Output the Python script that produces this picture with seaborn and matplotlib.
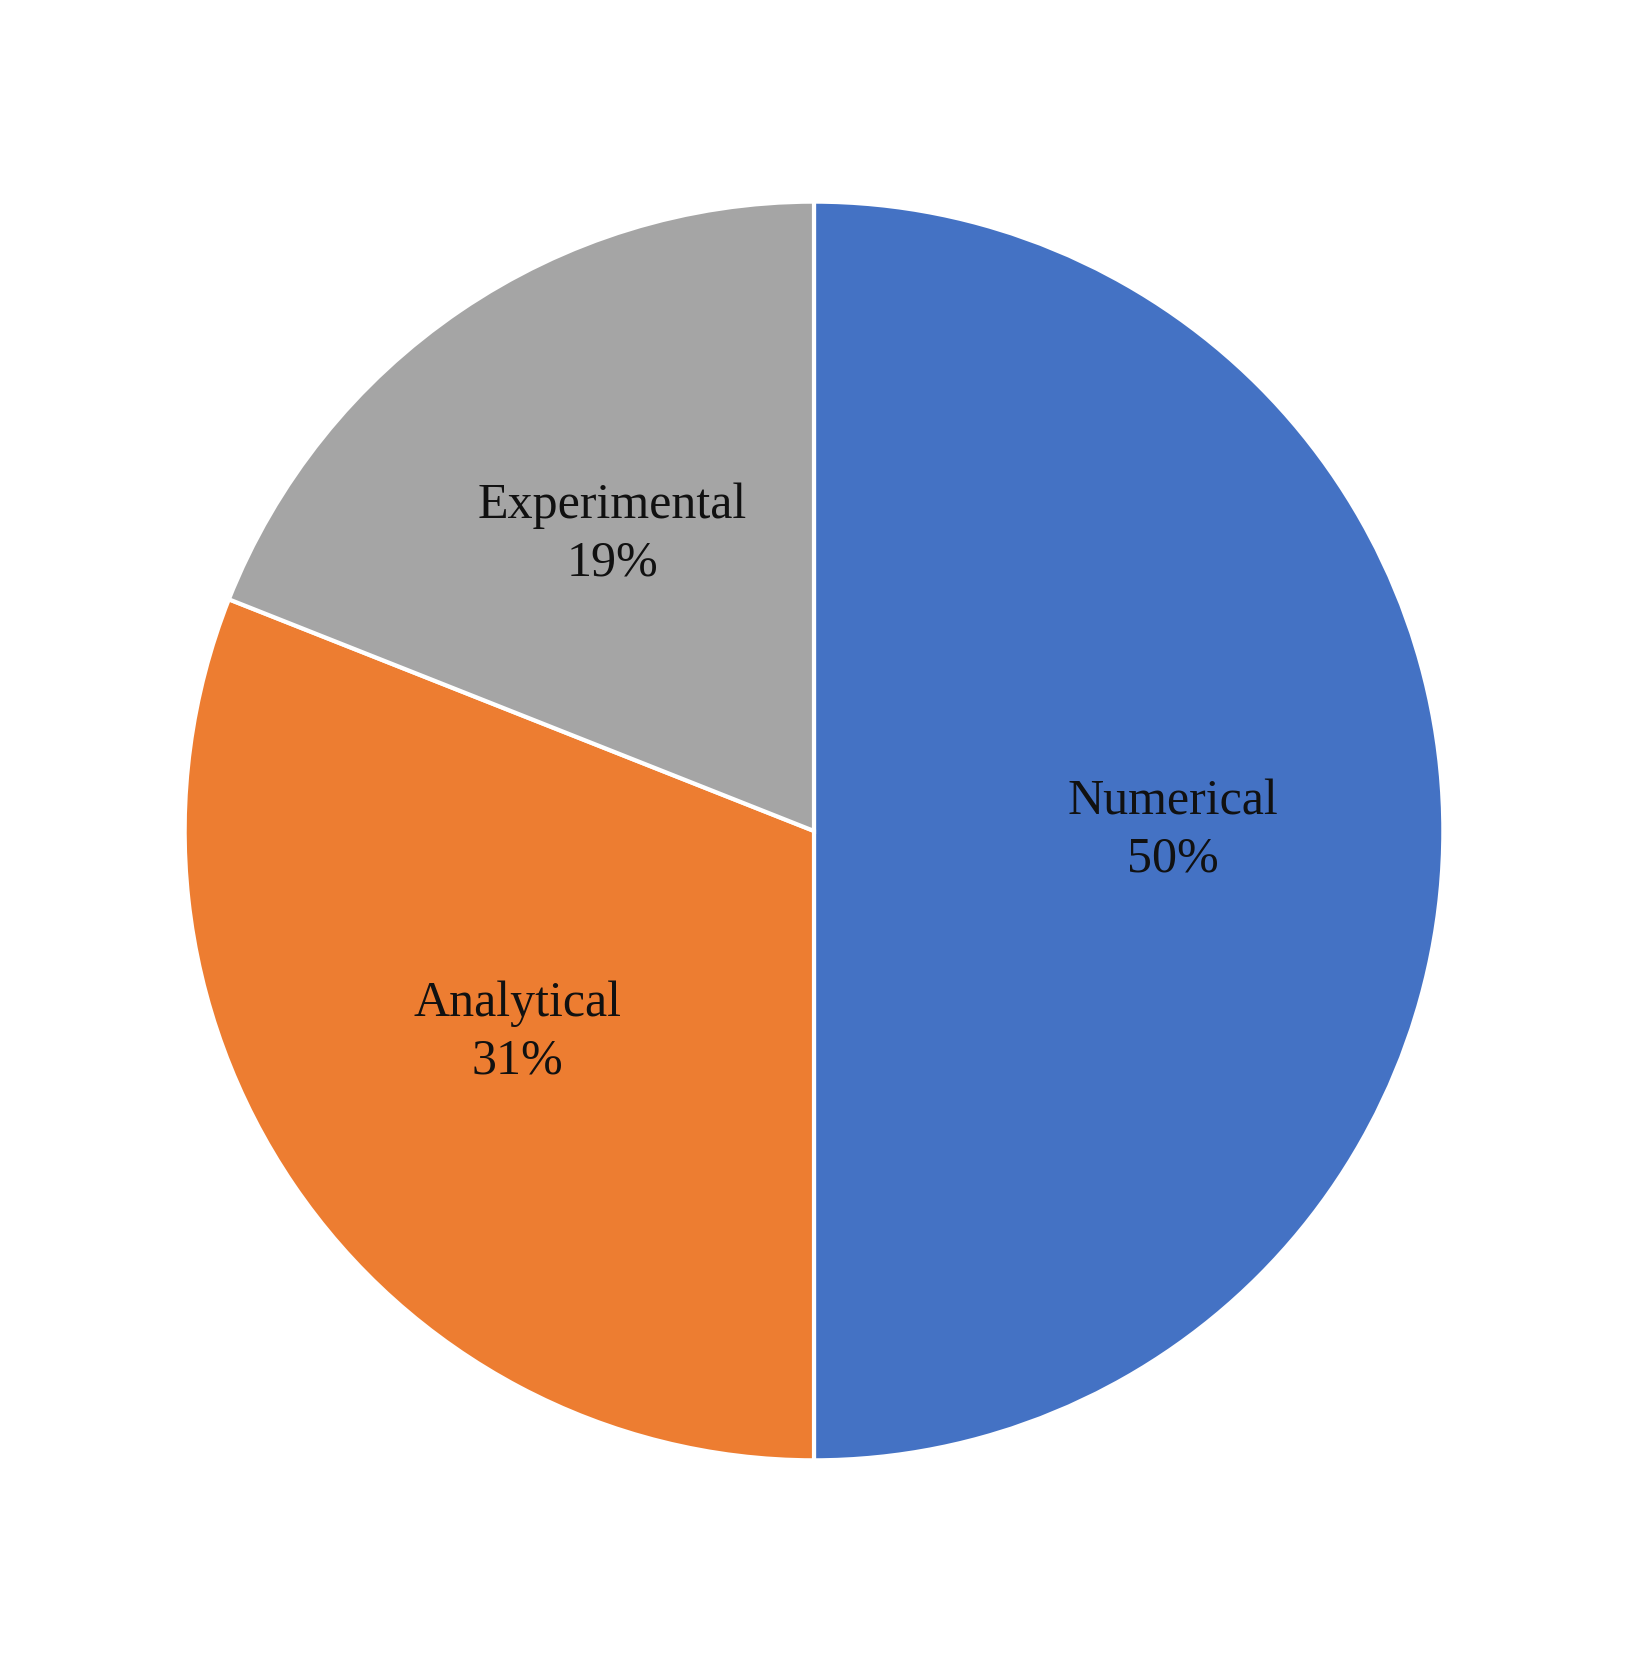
import matplotlib
matplotlib.use("Agg")
import matplotlib.pyplot as plt
import seaborn as sns

categories = ["Numerical", "Analytical", "Experimental"]
shares = [50, 31, 19]
colors = ["#4472C4", "#ED7D31", "#A5A5A5"]

sns.set_theme(style="white")
plt.rcParams["font.family"] = ["Liberation Serif", "DejaVu Serif"]

fig = plt.figure(figsize=(16.28, 16.72), dpi=100)
ax = fig.add_axes([0.0165, 0.0325, 0.967, 0.941])

labels = iter(categories)
wedges, texts, autotexts = ax.pie(
    shares,
    colors=colors,
    startangle=90,
    counterclock=False,
    autopct=lambda p: f"{next(labels)}\n{p:.0f}%",
    pctdistance=0.57,
    wedgeprops={"edgecolor": "white", "linewidth": 3},
    textprops={"fontsize": 36, "color": "#111111", "linespacing": 1.3},
)
ax.set_aspect("equal")

fig.savefig("out.png", dpi=100, facecolor="white")
